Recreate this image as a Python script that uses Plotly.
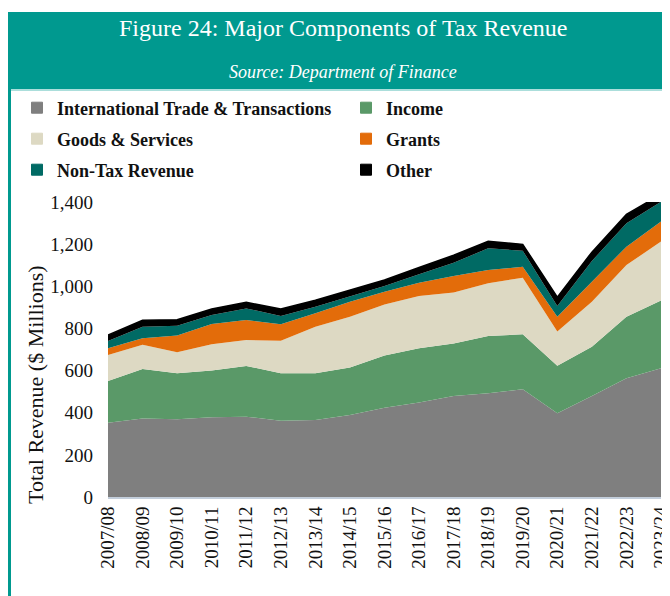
import plotly.graph_objects as go

years = ["2007/08", "2008/09", "2009/10", "2010/11", "2011/12", "2012/13", "2013/14",
         "2014/15", "2015/16", "2016/17", "2017/18", "2018/19", "2019/20", "2020/21",
         "2021/22", "2022/23", "2023/24"]
trade = [352, 373, 369, 378, 381, 362, 365, 389, 424, 448, 479, 492, 511, 397, 479, 563, 611]
income = [198, 234, 218, 222, 241, 225, 222, 225, 247, 258, 250, 272, 261, 226, 234, 293, 321]
goods = [124, 116, 100, 125, 123, 155, 221, 242, 243, 248, 241, 250, 269, 162, 214, 245, 280]
grants = [32, 30, 80, 96, 95, 78, 64, 71, 60, 63, 79, 63, 52, 71, 95, 87, 95]
nontax = [34, 55, 46, 43, 55, 39, 31, 24, 27, 40, 63, 103, 76, 50, 98, 111, 94]
other = [28, 31, 28, 28, 29, 33, 31, 30, 29, 32, 35, 34, 30, 42, 42, 42, 36]

series_names = ["International Trade & Transactions", "Income", "Goods & Services",
                "Grants", "Non-Tax Revenue", "Other"]
series_values = [trade, income, goods, grants, nontax, other]
colors = ["#7f7f7f", "#5a9968", "#ddd9c3", "#e36c0a", "#006a64", "#000000"]

# page offset (browser default body margin)
OFF = 8
W, H = 670 - OFF, 596 - OFF
L, R, T, B = 108, 661, 202, 497  # plot area in page pixels


def px(x):
    return (x - L) / (R - L)


def py(y):
    return (B - y) / (B - T)


FONT = "Liberation Serif"
TEAL = "#00998f"

fig = go.Figure()
for name, vals, col in zip(series_names, series_values, colors):
    fig.add_trace(go.Scatter(
        x=years, y=vals, name=name, stackgroup="one", mode="lines",
        line=dict(width=1.5 if name == "Other" else 0, color=col),
        fillcolor=col, showlegend=False, hoverinfo="x+y+name",
    ))

# legend entries (one legend per entry for exact placement)
legend_pos = [(17, 108), (346, 108), (17, 139), (346, 139), (17, 170), (346, 170)]
legend_layout = {}
for i, (name, col, (lx, ly)) in enumerate(zip(series_names, colors, legend_pos)):
    key = "legend" if i == 0 else f"legend{i + 1}"
    fig.add_trace(go.Scatter(
        x=[None], y=[None], name=name, mode="markers", legend=key,
        marker=dict(symbol="square", size=11, color=col,
                    line=dict(width=1, color=col)),
    ))
    legend_layout[key] = dict(
        x=px(lx), y=py(ly), xanchor="left", yanchor="middle",
        orientation="h", bgcolor="rgba(0,0,0,0)", itemwidth=30,
        font=dict(family=FONT, size=18, color="#111111", weight="bold"),
    )

fig.update_layout(
    width=W, height=H,
    margin=dict(l=L - OFF, r=W - (R - OFF), t=T - OFF, b=H - (B - OFF), autoexpand=False),
    paper_bgcolor="white", plot_bgcolor="white",
    showlegend=True,
    xaxis=dict(
        type="category", range=[0, len(years) - 1], tickangle=-90,
        tickfont=dict(family=FONT, size=19, color="#111111"),
        showgrid=False, showline=True, linecolor="#c3cedb", linewidth=2,
        ticks="", zeroline=False, automargin=False, ticklabeloverflow="allow",
    ),
    yaxis=dict(
        range=[0, 1400], tickvals=[0, 200, 400, 600, 800, 1000, 1200, 1400],
        tickformat=",d", showgrid=False, zeroline=False, showline=False,
        tickfont=dict(family=FONT, size=19, color="#111111"), ticks="",
        ticklabelstandoff=14, automargin=False,
    ),
    shapes=[
        dict(type="rect", xref="paper", yref="paper", x0=px(7), x1=px(670),
             y0=py(89), y1=py(12), fillcolor=TEAL, line=dict(width=0), layer="below"),
        dict(type="line", xref="paper", yref="paper", x0=px(8), x1=px(670),
             y0=py(90), y1=py(90), line=dict(color="#8fd3cf", width=1.5)),
        dict(type="line", xref="paper", yref="paper", x0=px(9.5), x1=px(9.5),
             y0=py(89), y1=py(596), line=dict(color=TEAL, width=3)),
    ],
    annotations=[
        dict(text="Figure 24: Major Components of Tax Revenue", xref="paper", yref="paper",
             x=px(343), y=py(28), showarrow=False, xanchor="center", yanchor="middle",
             font=dict(family=FONT, size=24, color="white")),
        dict(text="<i>Source: Department of Finance</i>", xref="paper", yref="paper",
             x=px(343), y=py(72), showarrow=False, xanchor="center", yanchor="middle",
             font=dict(family=FONT, size=18, color="white")),
        dict(text="Total Revenue ($ Millions)", xref="paper", yref="paper",
             x=px(35), y=py(385), showarrow=False, xanchor="center", yanchor="middle",
             textangle=-90, font=dict(family=FONT, size=22, color="#111111")),
    ],
    **legend_layout,
)

fig.write_html("out.html")
